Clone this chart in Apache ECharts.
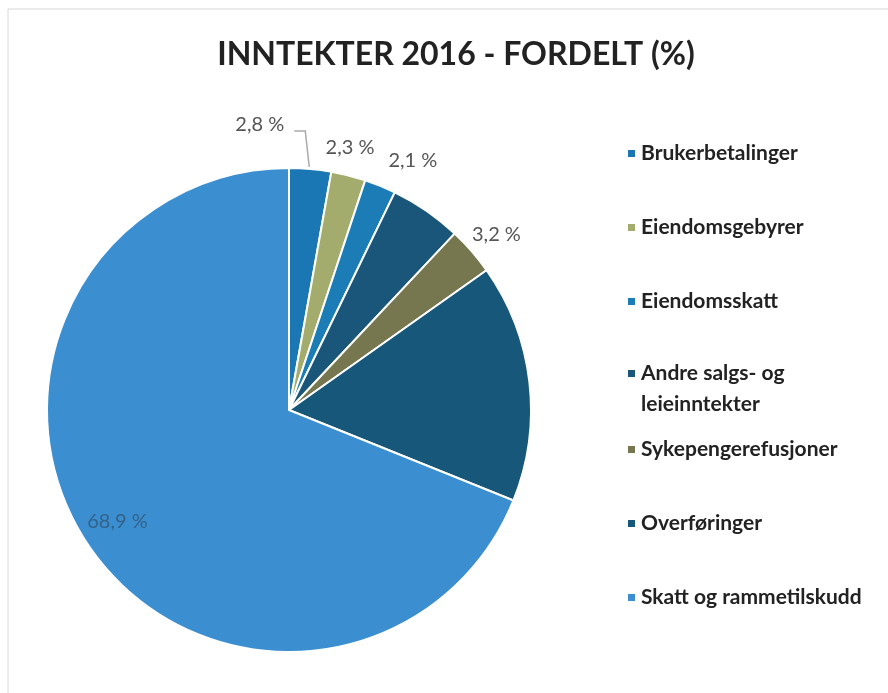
<!DOCTYPE html>
<html>
<head>
<meta charset="utf-8">
<script src="https://cdn.jsdelivr.net/npm/echarts@6/dist/echarts.min.js"></script>
<style>
  html, body { margin: 0; padding: 0; background: #fff; }
  #pieChart { width: 888px; height: 693px; }
</style>
</head>
<body>
<div id="pieChart"></div>
<script>
// data
var categories = ['Brukerbetalinger', 'Eiendomsgebyrer', 'Eiendomsskatt', 'Andre salgs- og leieinntekter', 'Sykepengerefusjoner', 'Overføringer', 'Skatt og rammetilskudd'];
var shares = [2.8, 2.3, 2.1, 4.8, 3.2, 15.9, 68.9];
var showLabel = [true, true, true, false, true, false, true];
var colors = ['#1b77b3', '#a3ac6c', '#1b7cb6', '#195679', '#76774f', '#175779', '#3b8fd0'];

var cx = 289, cy = 410, r = 242;
var total = shares.reduce(function (a, b) { return a + b; }, 0);
var midAngles = [];
var acc = 0;
for (var i = 0; i < shares.length; i++) {
  midAngles.push((acc + shares[i] / 2) / total * Math.PI * 2);
  acc += shares[i];
}
// label placement: distance from centre (x radius) and a small nudge in px
var labelDist = [1.15, 1.11, 1.15, 1, 1.12, 1, 0.87];
var labelNudge = [[0, 0], [-5, -2], [19, 8], [0, 0], [3, 3], [0, 0], [3, -6]];

function fmt(v) {
  return v.toFixed(1).replace('.', ',') + ' %';
}

var myChart = echarts.init(document.getElementById('pieChart'));
var option = {
  backgroundColor: '#fff',
  title: {
    text: 'INNTEKTER 2016 - FORDELT (%)',
    left: 451,
    textAlign: 'center',
    top: 34,
    textStyle: {
      fontFamily: 'Lato',
      fontWeight: 'bold',
      fontSize: 32,
      color: '#222'
    }
  },
  legend: [
    { data: categories.slice(0, 3), top: 133 },
    { data: categories.slice(3, 4), top: 322 },
    { data: categories.slice(4), top: 429 }
  ].map(function (l) {
    return {
      data: l.data,
      top: l.top,
      left: 621,
      orient: 'vertical',
      icon: 'rect',
      itemWidth: 9,
      itemHeight: 9,
      itemGap: 43,
      selectedMode: false,
      formatter: function (name) {
        // blank first line keeps the marker level with the first text line
        return name === 'Andre salgs- og leieinntekter' ? ' \nAndre salgs- og\nleieinntekter' : name;
      },
      textStyle: {
        fontFamily: 'Lato',
        fontWeight: 'bold',
        fontSize: 21,
        lineHeight: 31,
        color: '#222'
      }
    };
  }),
  series: [
    {
      name: 'Inntekter',
      type: 'pie',
      center: [cx, cy],
      radius: r,
      startAngle: 90,
      clockwise: true,
      animation: false,
      itemStyle: {
        borderColor: '#fff',
        borderWidth: 2
      },
      label: {
        show: true,
        position: 'outside',
        overflow: 'none',
        fontFamily: 'Lato',
        fontSize: 20,
        color: '#555',
        formatter: function (p) { return fmt(p.value); }
      },
      labelLine: { show: false },
      labelLayout: function (p) {
        var i = p.dataIndex;
        var a = midAngles[i];
        if (i === 0) {
          var ex = cx + r * Math.sin(a), ey = cy - r * Math.cos(a);
          var p1 = [ex - 5, ey - 38];
          var p2 = [p1[0] - 11, p1[1]];
          return {
            x: p2[0] - 10,
            y: p2[1] - 6,
            align: 'right',
            verticalAlign: 'middle',
            labelLinePoints: [[ex - 1, ey - 2], p1, p2]
          };
        }
        var d = r * labelDist[i];
        return {
          x: cx + d * Math.sin(a) + labelNudge[i][0],
          y: cy - d * Math.cos(a) + labelNudge[i][1],
          align: 'center',
          verticalAlign: 'middle'
        };
      },
      data: categories.map(function (c, i) {
        var item = {
          name: c,
          value: shares[i],
          itemStyle: { color: colors[i] },
          label: { show: showLabel[i] }
        };
        if (i === 0) {
          item.labelLine = { show: true, lineStyle: { color: '#aaa', width: 1.5 } };
        }
        if (i === shares.length - 1) {
          item.label.color = 'rgba(45,60,80,0.55)';
        }
        return item;
      })
    }
  ],
  graphic: [
    {
      type: 'polyline',
      shape: { points: [[8, 693], [8, 9], [888, 9]] },
      style: { stroke: '#d8d8d8', lineWidth: 1, fill: null }
    }
  ]
};
option && myChart.setOption(option);
</script>
</body>
</html>
